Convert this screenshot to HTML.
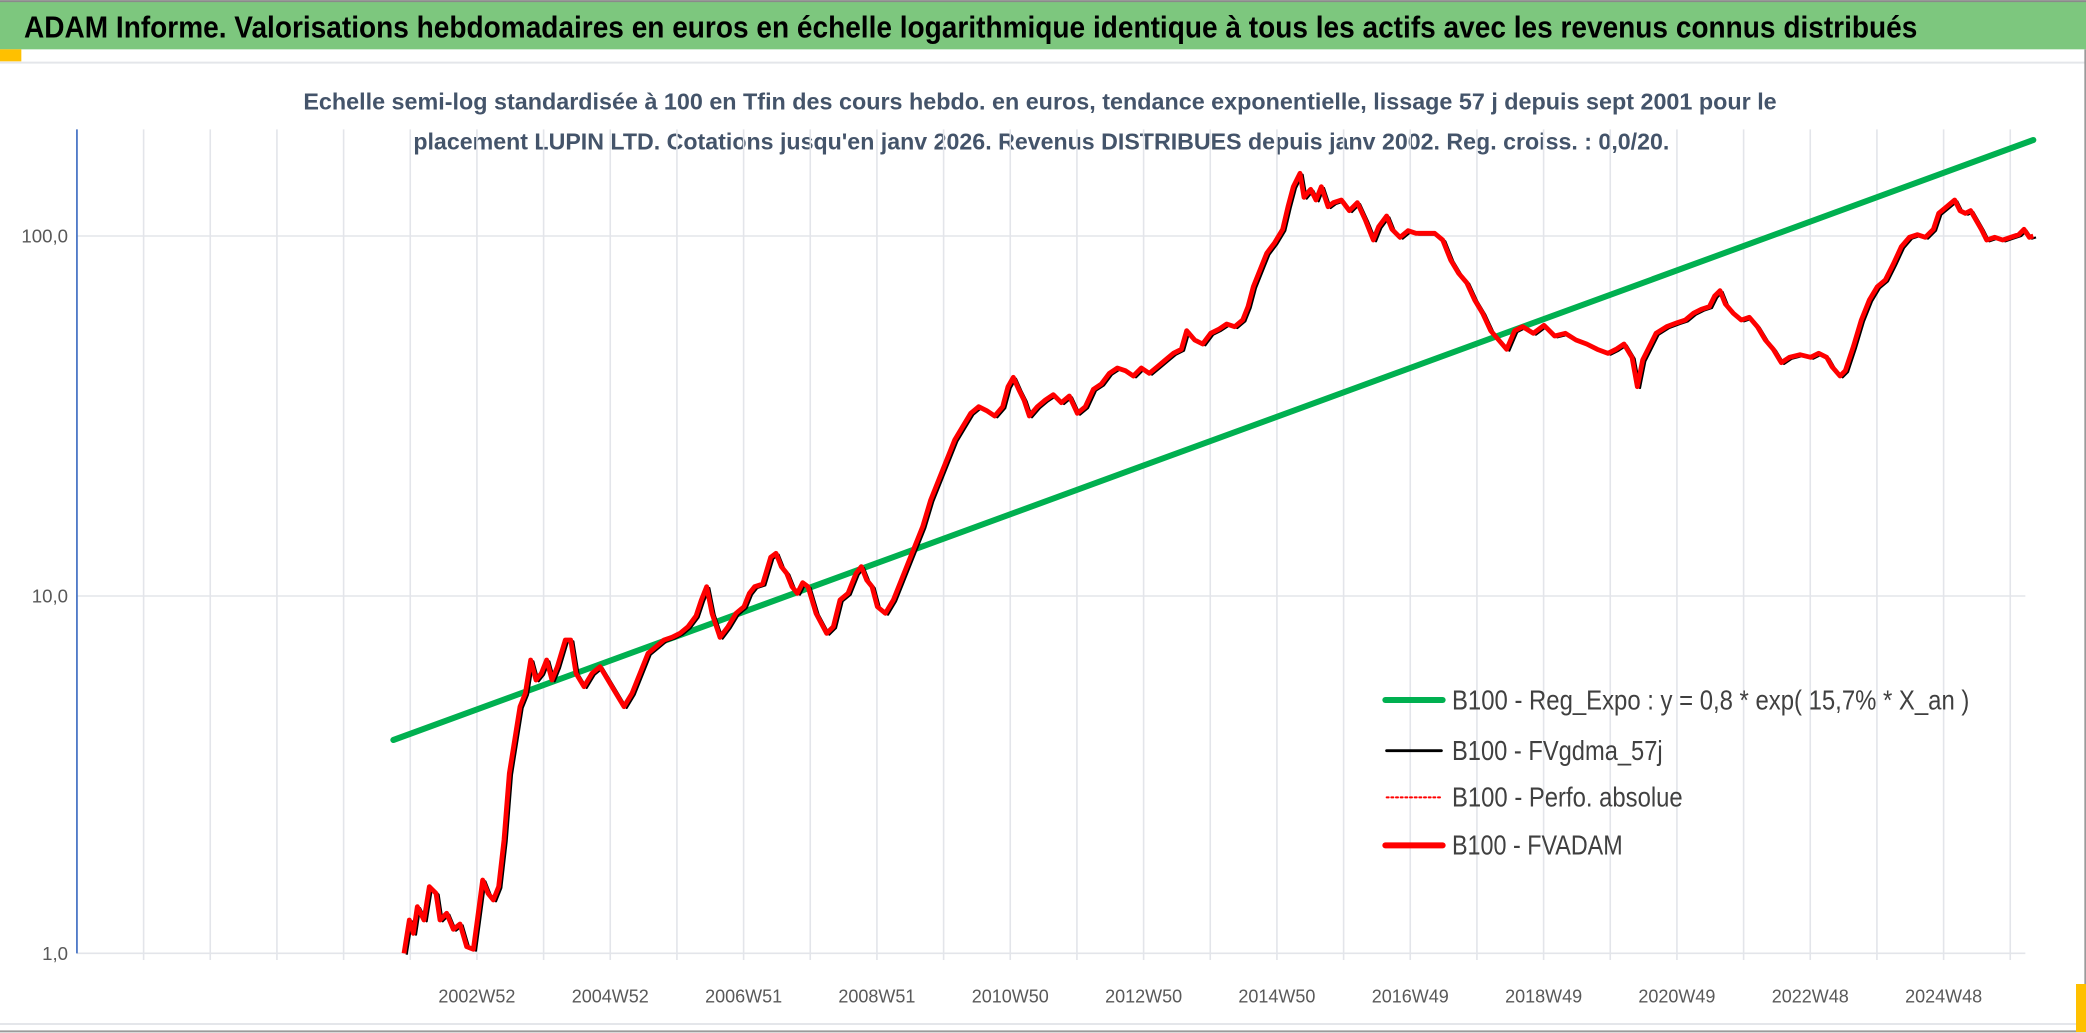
<!DOCTYPE html>
<html><head><meta charset="utf-8"><style>
html,body{margin:0;padding:0;background:#fff;}
svg{display:block;font-family:"Liberation Sans Narrow","Liberation Sans",sans-serif;}
</style></head><body>
<svg width="2086" height="1033" viewBox="0 0 1564.5 774.75" xmlns="http://www.w3.org/2000/svg">
<rect x="0" y="0" width="1564.5" height="774.75" fill="#fff"/>
<rect x="0" y="1" width="1564.5" height="36" fill="#7dc77e"/>
<line x1="0" y1="0.8" x2="1564.5" y2="0.8" stroke="#8a8a8a" stroke-width="1.5"/>
<text x="18" y="28" font-size="23" font-weight="bold" fill="#000" textLength="1420" lengthAdjust="spacingAndGlyphs">ADAM Informe. Valorisations hebdomadaires en euros en échelle logarithmique identique à tous les actifs avec les revenus connus distribués</text>
<rect x="0" y="37" width="16" height="9" fill="#ffc000"/>
<line x1="0" y1="47" x2="1564.5" y2="47" stroke="#e4e6ea" stroke-width="1.5"/>
<line x1="1564" y1="37" x2="1564" y2="774" stroke="#9a9a9a" stroke-width="1.5"/>
<line x1="0" y1="773.5" x2="1564.5" y2="773.5" stroke="#9a9a9a" stroke-width="1.5"/>
<line x1="0" y1="768" x2="1560" y2="768" stroke="#e4e6ea" stroke-width="1.5"/>
<rect x="1557" y="738" width="8" height="36" fill="#ffc000"/>
<text x="780" y="82" font-size="17.5" font-weight="bold" fill="#44546a" text-anchor="middle" textLength="1105" lengthAdjust="spacingAndGlyphs">Echelle semi-log standardisée à 100 en Tfin des cours hebdo. en euros, tendance exponentielle, lissage 57 j depuis sept 2001 pour le</text>
<text x="781" y="112" font-size="17.5" font-weight="bold" fill="#44546a" text-anchor="middle" textLength="942" lengthAdjust="spacingAndGlyphs">placement LUPIN LTD. Cotations jusqu'en janv 2026. Revenus DISTRIBUES depuis janv 2002. Reg. croiss. : 0,0/20.</text>
<g stroke="#e3e5ea" stroke-width="1.2">
<path d="M107.7 97V720M157.7 97V720M207.7 97V720M257.7 97V720M307.7 97V720M357.7 97V720M407.7 97V720M457.7 97V720M507.7 97V720M557.7 97V720M607.7 97V720M657.7 97V720M707.7 97V720M757.7 97V720M807.7 97V720M857.7 97V720M907.7 97V720M957.7 97V720M1007.7 97V720M1057.7 97V720M1107.7 97V720M1157.7 97V720M1207.7 97V720M1257.7 97V720M1307.7 97V720M1357.7 97V720M1407.7 97V720M1457.7 97V720M1507.7 97V720"/>
<path d="M57.7 177H1519M57.7 447H1519M57.7 715H1519"/>
</g>
<line x1="57.7" y1="97" x2="57.7" y2="715" stroke="#4472c4" stroke-width="1.3"/>
<g font-size="14" fill="#595959" text-anchor="end">
<text x="51" y="182">100,0</text><text x="51" y="452">10,0</text><text x="51" y="720">1,0</text>
</g>
<g font-size="13.5" fill="#595959" text-anchor="middle">
<text x="357.7" y="752">2002W52</text><text x="457.7" y="752">2004W52</text><text x="557.7" y="752">2006W51</text><text x="657.7" y="752">2008W51</text><text x="757.7" y="752">2010W50</text><text x="857.7" y="752">2012W50</text><text x="957.7" y="752">2014W50</text><text x="1057.7" y="752">2016W49</text><text x="1157.7" y="752">2018W49</text><text x="1257.7" y="752">2020W49</text><text x="1357.7" y="752">2022W48</text><text x="1457.7" y="752">2024W48</text>
</g>
<line x1="295" y1="555" x2="1525" y2="105" stroke="#00b050" stroke-width="4.5" stroke-linecap="round"/>
<defs><polyline id="d" fill="none" points="303,715 307,690 310,700 313,680 318,690 322,665 327,670 330,690 335,685 340,697 345,693 350,710 355,712 358,690 362,660 366,670 370,675 374,665 378,630 382,580 386,555 390,530 394,520 398,495 402,510 406,505 410,495 414,510 418,500 424,480 428,480 432,505 438,515 444,505 450,500 456,510 462,520 468,530 474,520 480,505 486,490 492,485 498,480 504,478 510,475 516,470 522,462 526,450 530,440 534,460 540,478 546,470 552,460 558,455 562,445 566,440 572,438 578,418 582,415 586,425 590,430 594,440 598,445 602,437 606,440 612,460 620,475 625,470 630,450 636,445 642,430 646,425 650,435 654,440 658,455 664,460 670,450 676,435 680,425 686,410 692,395 698,375 704,360 710,345 716,330 722,320 728,310 734,305 740,308 746,312 752,305 756,290 760,283 764,292 768,300 772,312 778,305 784,300 790,296 796,302 802,297 808,310 814,305 820,292 826,288 832,280 838,276 844,278 850,282 856,276 862,280 868,275 874,270 880,265 886,262 890,248 896,255 902,258 908,250 914,247 920,243 926,245 932,240 936,230 940,215 946,200 950,190 956,182 962,172 966,155 970,140 975,130 978,148 983,142 987,150 991,140 996,155 1000,152 1006,150 1012,158 1018,152 1024,165 1030,180 1034,170 1040,162 1044,172 1050,178 1056,173 1062,175 1068,175 1076,175 1082,180 1088,195 1094,205 1100,212 1106,225 1112,235 1118,248 1124,255 1130,262 1136,248 1142,245 1150,250 1158,244 1166,252 1174,250 1182,255 1190,258 1198,262 1206,265 1212,262 1218,258 1224,268 1228,290 1232,270 1236,262 1242,250 1250,245 1258,242 1264,240 1270,235 1276,232 1282,230 1286,222 1290,218 1294,228 1300,235 1306,240 1312,238 1318,245 1324,255 1330,262 1336,272 1342,268 1350,266 1358,268 1364,265 1370,268 1374,275 1380,282 1384,278 1390,260 1396,240 1402,225 1408,215 1414,210 1420,198 1426,185 1432,178 1438,176 1444,178 1450,172 1454,160 1460,155 1466,150 1470,158 1474,160 1478,158 1482,165 1486,172 1490,180 1496,178 1502,180 1508,178 1514,176 1518,172 1522,178 1525,177"/></defs>
<use href="#d" stroke="#000" stroke-width="1.6" stroke-linejoin="round" transform="translate(2,1)"/>
<use href="#d" stroke="#ff0000" stroke-width="3.6" stroke-linejoin="round"/>
<g stroke-linecap="round">
<line x1="1039" y1="525" x2="1082" y2="525" stroke="#00b050" stroke-width="4.5"/>
<line x1="1040" y1="563" x2="1081" y2="563" stroke="#000" stroke-width="2.2"/>
<line x1="1040" y1="598" x2="1081" y2="598" stroke="#ff0000" stroke-width="1.5" stroke-dasharray="1.5,2"/>
<line x1="1039" y1="634" x2="1082" y2="634" stroke="#ff0000" stroke-width="4.5"/>
</g>
<g font-size="21" fill="#404040">
<text x="1089" y="532" textLength="388" lengthAdjust="spacingAndGlyphs">B100 - Reg_Expo : y = 0,8 * exp( 15,7% *  X_an )</text>
<text x="1089" y="570" textLength="158" lengthAdjust="spacingAndGlyphs">B100 - FVgdma_57j</text>
<text x="1089" y="605" textLength="173" lengthAdjust="spacingAndGlyphs">B100 - Perfo. absolue</text>
<text x="1089" y="641" textLength="128" lengthAdjust="spacingAndGlyphs">B100 - FVADAM</text>
</g>
</svg>
</body></html>
